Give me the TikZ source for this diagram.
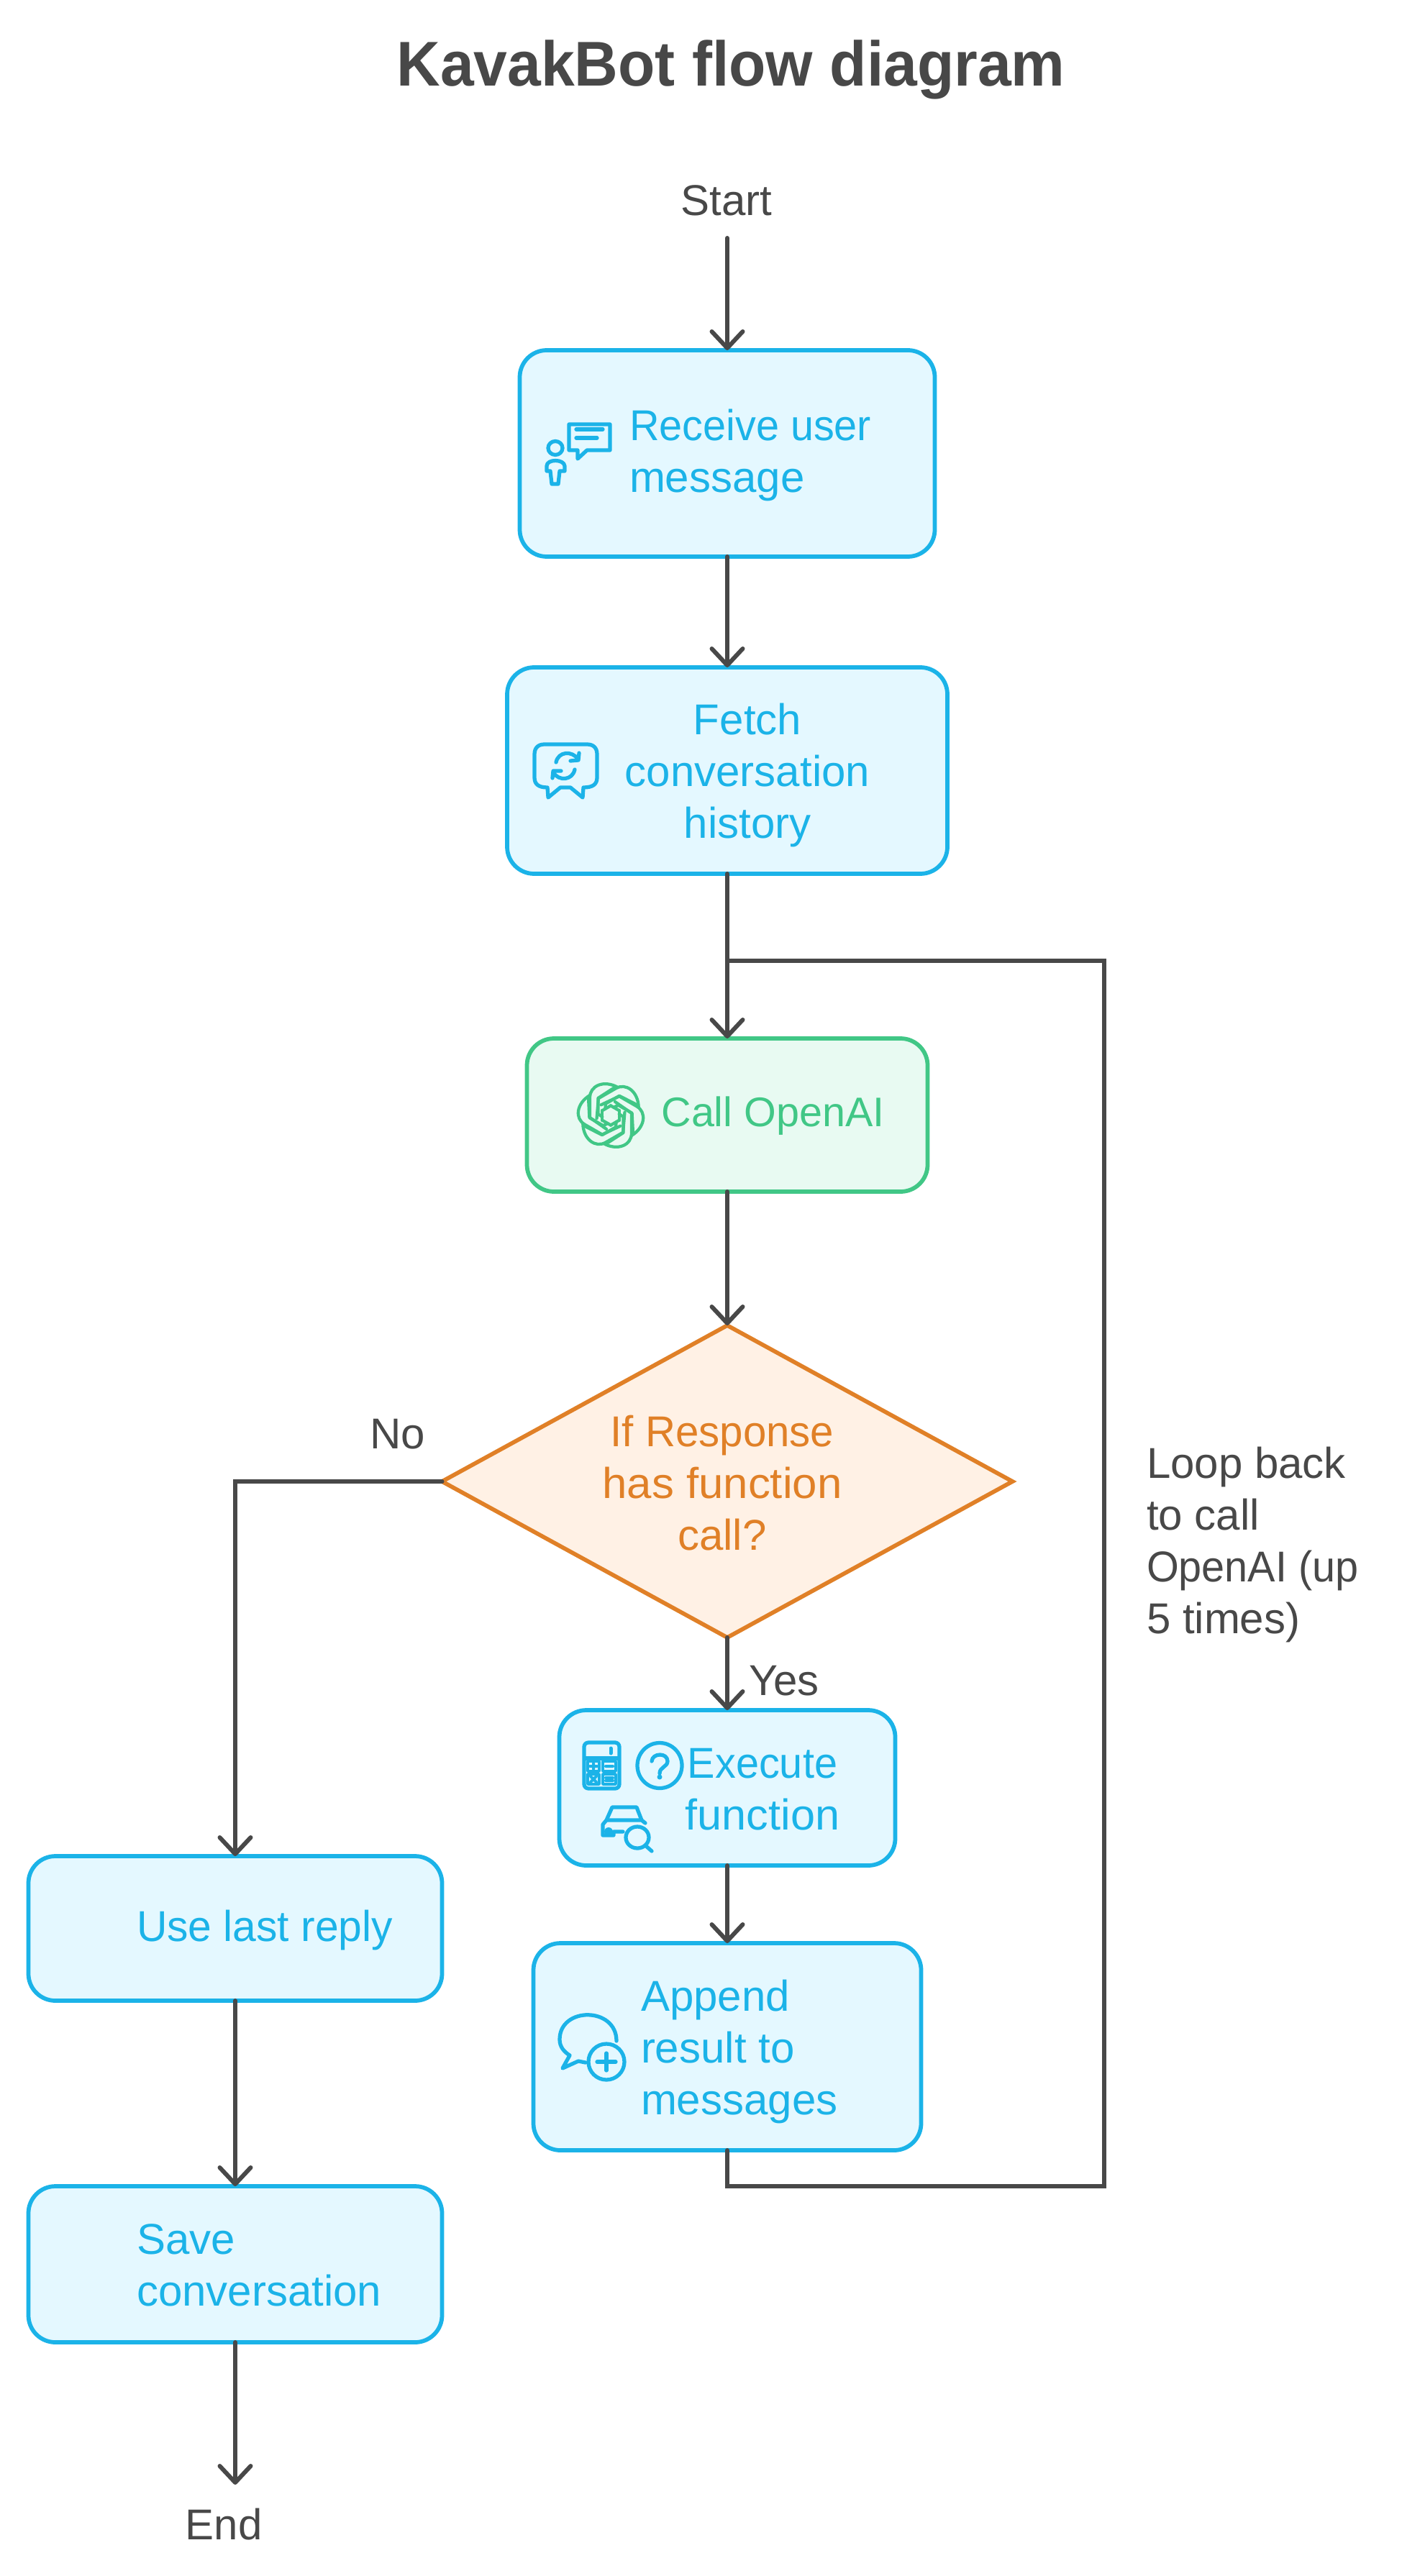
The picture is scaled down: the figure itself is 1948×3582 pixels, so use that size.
\documentclass[tikz,border=0pt]{standalone}
\usepackage{fontspec}
\setmainfont{Liberation Sans}
\usetikzlibrary{arrows.meta,shapes.geometric}
\definecolor{ink}{HTML}{484848}
\definecolor{blueS}{HTML}{1BB3E8}
\definecolor{blueF}{HTML}{E4F8FF}
\definecolor{greenS}{HTML}{41C786}
\definecolor{greenF}{HTML}{E8FAF2}
\definecolor{orangeS}{HTML}{E08027}
\definecolor{orangeF}{HTML}{FFF1E5}
\newcommand{\sqz}[2]{\scalebox{#1}[1]{#2}}
\tikzset{
  x=0.2pt,y=-0.2pt,
  boxbase/.style={rectangle,rounded corners=7.5pt,line width=1.15pt,outer sep=0pt,inner sep=0pt},
  bluebox/.style={boxbase,draw=blueS,fill=blueF},
  greenbox/.style={boxbase,draw=greenS,fill=greenF},
  decision/.style={diamond,draw=orangeS,fill=orangeF,line width=1.15pt,outer sep=0pt,inner sep=0pt},
  txt/.style={font=\fontsize{12}{14.4}\selectfont,inner sep=0pt,outer sep=0pt},
  bluetxt/.style={txt,text=blueS},
  inktxt/.style={txt,text=ink},
  conn/.style={draw=ink,line width=1.2pt,line cap=round,line join=miter},
  arr/.style={conn,-{Straight Barb[length=4.6pt,width=8.6pt,line width=1.2pt,round]}},
  icon/.style={draw=blueS,line width=1.05pt,line cap=round,line join=round},
  gicon/.style={draw=greenS,line width=0.85pt,line cap=round,line join=round},
}
\begin{document}
\begin{tikzpicture}
\useasboundingbox (0,0) rectangle (1948,3582);
% title
\node[font=\fontsize{17.6}{20}\selectfont\bfseries,text=ink,inner sep=0pt] (title) at (1016,97) {\sqz{0.955}{KavakBot flow diagram}};
% boxes
\node[bluebox,minimum width=115.4pt,minimum height=57.4pt] (recv) at (1011,630.5) {};
\node[bluebox,minimum width=122.4pt,minimum height=57.4pt] (fetch) at (1011,1071.5) {};
\node[greenbox,minimum width=111.4pt,minimum height=42.6pt] (call) at (1011,1550.5) {};
\node[decision,minimum width=158.6pt,minimum height=86.8pt,aspect=1.827] (dec) at (1011,2060) {};
\node[bluebox,minimum width=93.4pt,minimum height=43.2pt] (exec) at (1011,2486) {};
\node[bluebox,minimum width=107.8pt,minimum height=57.6pt] (app) at (1011,2846) {};
\node[bluebox,minimum width=115pt,minimum height=40.2pt] (use) at (327,2681.5) {};
\node[bluebox,minimum width=115pt,minimum height=43.4pt] (save) at (327,3148.5) {};
% free ends
\node[inktxt] (start) at (1010,279) {Start};
\node[inktxt] (end) at (311,3510) {End};
\coordinate (startc) at (1011,331);
\coordinate (endc) at (327,3455);
\coordinate (loopin) at (1011,1336);
\coordinate (loopbr) at (1535,3040);
\coordinate (apps) at (1011,3040);
\coordinate (looptr) at (1535,1336);
% texts
\node[bluetxt,anchor=west,align=left] (t1) at (875,633) {\sqz{0.96}{Receive user}\\message};
\node[bluetxt,align=center] (t2) at (1039,1078) {Fetch\\conversation\\history};
\node[txt,text=greenS] (t3) at (1074.5,1552) {\fontsize{11.5}{14}\selectfont Call OpenAI};
\node[txt,text=orangeS,align=center] (t4) at (1004,2062) {\sqz{0.97}{If Response}\\\sqz{1.03}{has function}\\call?};
\node[bluetxt,align=center] (t5) at (1060,2488) {\sqz{0.96}{Execute}\\\sqz{1.02}{function}};
\node[bluetxt,anchor=west,align=left] (t6) at (891,2853) {Append\\result to\\messages};
\node[bluetxt,anchor=west] (t7) at (190,2684) {\sqz{0.98}{Use last reply}};
\node[bluetxt,anchor=west,align=left] (t8) at (190,3150) {Save\\conversation};
\node[inktxt] (no) at (553,1994) {No};
\node[inktxt] (yes) at (1090,2337) {Yes};
\node[inktxt,anchor=west,align=left] (lb) at (1594,2148) {Loop back\\to call\\\sqz{0.96}{OpenAI (up}\\5 times)};
% connectors
\draw[arr] (startc) -- (recv.north);
\draw[arr] (recv.south) -- (fetch.north);
\draw[arr] (fetch.south) -- (call.north);
\draw[arr] (call.south) -- (dec.north);
\draw[arr] (dec.south) -- (exec.north);
\draw[arr] (exec.south) -- (app.north);
\draw[arr] (dec.west) -| (use.north);
\draw[arr] (use.south) -- (save.north);
\draw[arr] (save.south) -- (endc);
\draw[conn] (app.south) -- (apps) -- (loopbr) -- (looptr) -- (loopin);
% icon: person + chat
\draw[icon] (791,590) -- (848,590) -- (848,626) -- (816,626) -- (803,638) -- (803,626) -- (791,626) -- cycle;
\draw[icon] (801,597) -- (838,597) (801,609) -- (830,609);
\draw[icon] (772,623) ellipse (10 and 9.5);
\draw[icon] (760,655) -- (760,648) .. controls (760,638) and (784,638) .. (785,648) -- (785,655) -- (778,655) -- (776,673) -- (767,673) -- (765,655) -- cycle;
% icon: chat refresh
\draw[icon] (757,1035) -- (816,1035) .. controls (825,1035) and (830,1040) .. (830,1049) -- (830,1081) .. controls (830,1090) and (825,1095) .. (811,1095) -- (810,1109) -- (793,1095) -- (779,1095) -- (762,1109) -- (761,1095) .. controls (748,1095) and (743,1090) .. (743,1081) -- (743,1049) .. controls (743,1040) and (748,1035) .. cycle;
\draw[icon] (773,1060) .. controls (776,1045) and (795,1043) .. (804,1056) (793,1058) -- (804,1057) -- (805,1047);
\draw[icon] (799,1070) .. controls (796,1085) and (777,1087) .. (769,1074) (780,1072) -- (769,1072) -- (768,1082);
% icon: OpenAI knot
\begin{scope}[shift={(849,1551)}]
\foreach \a in {0,60,...,300}{
  \draw[gicon,rotate=\a] (-6,19) -- (-29,3) -- (-29,-25) .. controls (-29,-41) and (-10,-50) .. (10,-39);
  \draw[gicon,rotate=\a] (-11.7,2) -- (-17.6,-2) -- (-17.6,-24) -- (4,-38);
  \draw[gicon,rotate=\a] (-11.7,-7) -- (-11.7,7);
}
\end{scope}
% icon: calculator
\draw[icon,rounded corners=1.2pt] (812,2423) rectangle (861,2487);
\draw[icon] (813,2445) -- (860,2445);
\draw[icon,line width=1pt] (849,2431) -- (849,2438);
\draw[icon,line width=0.75pt] (817,2449) rectangle (833,2463) (838,2449) rectangle (856,2463) (817,2467) rectangle (833,2481) (838,2467) rectangle (856,2481);
\draw[icon,line width=0.8pt] (820,2456) -- (830,2456) (825,2452) -- (825,2460) (842,2456) -- (852,2456) (821,2470) -- (829,2478) (829,2470) -- (821,2478) (842,2472) -- (852,2472) (842,2476) -- (852,2476);
% icon: question
\draw[icon] (917,2455) ellipse (31 and 31.5);
\draw[icon] (906,2449) .. controls (907,2437) and (928,2437) .. (928,2449) .. controls (928,2457) and (917,2457) .. (917,2466);
\fill[blueS] (917,2471) circle (3.5);
% icon: car + magnifier
\draw[icon] (843,2531) -- (851,2513) -- (885,2513) -- (892,2531) -- (897,2535) (843,2531) -- (892,2531) (843,2531) -- (838,2537) -- (838,2552) -- (853,2552) -- (853,2547) -- (866,2547);
\fill[blueS] (846,2547) circle (6);
\draw[icon] (886,2555) ellipse (16 and 15);
\draw[icon] (897,2566) -- (906,2574);
% icon: chat plus
\draw[icon] (857,2838) .. controls (857,2790) and (778,2790) .. (778,2836) .. controls (778,2846) and (784,2853) .. (792,2858) -- (782,2876) -- (804,2866) -- (814,2868);
\draw[icon] (843,2867) ellipse (25 and 25);
\draw[icon] (830,2867) -- (856,2867) (843,2855) -- (843,2879);
\end{tikzpicture}
\end{document}
